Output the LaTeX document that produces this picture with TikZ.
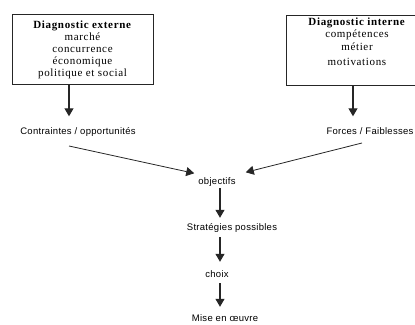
\documentclass[tikz,border=0pt]{standalone}
\usepackage{fontspec}
\setmainfont{Liberation Serif}
\setsansfont{Liberation Sans}
\newfontfamily\boitefont[LetterSpace=6]{Liberation Serif}
\newfontfamily\etapefont[LetterSpace=3]{Liberation Sans}
\usepackage{tikz}
\usetikzlibrary{positioning, arrows.meta, calc}
\tikzstyle{diag}=[rectangle, draw=black!85, line width=0.8pt, align=center, inner sep=0pt, minimum height=70pt, font=\boitefont\fontsize{11}{12}\selectfont]
\tikzstyle{etape}=[inner sep=0pt, text height=7pt, text depth=2pt, font=\etapefont\fontsize{9.5}{11}\selectfont]
\tikzstyle{fleche}=[-{Triangle[length=8pt, width=9pt]}, line width=1.1pt, draw=black!85]
\tikzstyle{fleche fine}=[-{Triangle[length=8pt, width=9pt]}, line width=0.8pt, draw=black!85]

\begin{document}
\begin{tikzpicture}[x=1pt, y=-1pt]
                \useasboundingbox (0,0) rectangle (415,324);
                \clip (0,0) rectangle (415,324);
                % Diagnostics
                \node[diag, minimum width=141pt] (externe) at (82.5,49.5) {\textbf{Diagnostic externe}\\marché\\concurrence\\économique\\politique et social};
                \node[diag, minimum width=142pt] (interne) at (357,50) {\textbf{Diagnostic interne}\\compétences\\[1pt]métier\\[3pt]motivations\\[4pt]};

                % Etapes
                \node[etape] (contraintes) at (78,132) {Contraintes / opportunités};
                \node[etape] (forces) at (370,132) {Forces / Faiblesses};
                \node[etape] (objectifs) at (217,182) {objectifs};
                \node[etape] (strategies) at (232,228) {Stratégies possibles};
                \node[etape] (choix) at (217,275) {choix};
                \node[etape] (mise) at (225,318.5) {Mise en œuvre};

                % Axes des fleches
                \coordinate (axeg) at (69,0);
                \coordinate (axed) at (353,0);
                \coordinate (axec) at (220,0);
                \coordinate (depg) at (69,146);
                \coordinate (depd) at (362,143);

                % Fleches
                \draw[fleche, shorten >=11pt] (externe.south -| axeg) -- (contraintes.north -| axeg);
                \draw[fleche, shorten >=11pt] (interne.south -| axed) -- (forces.north -| axed);
                \draw[fleche fine] (depg) -- ($(objectifs.north west)+(-4,-4)$);
                \draw[fleche fine] (depd) -- ($(objectifs.north east)+(10,-5)$);
                \draw[fleche, shorten <=1.5pt, shorten >=5.5pt] (objectifs.south -| axec) -- (strategies.north -| axec);
                \draw[fleche, shorten <=4.5pt, shorten >=8.5pt] (strategies.south -| axec) -- (choix.north -| axec);
                \draw[fleche, shorten <=3.5pt, shorten >=7pt] (choix.south -| axec) -- (mise.north -| axec);
            \end{tikzpicture}
\end{document}
